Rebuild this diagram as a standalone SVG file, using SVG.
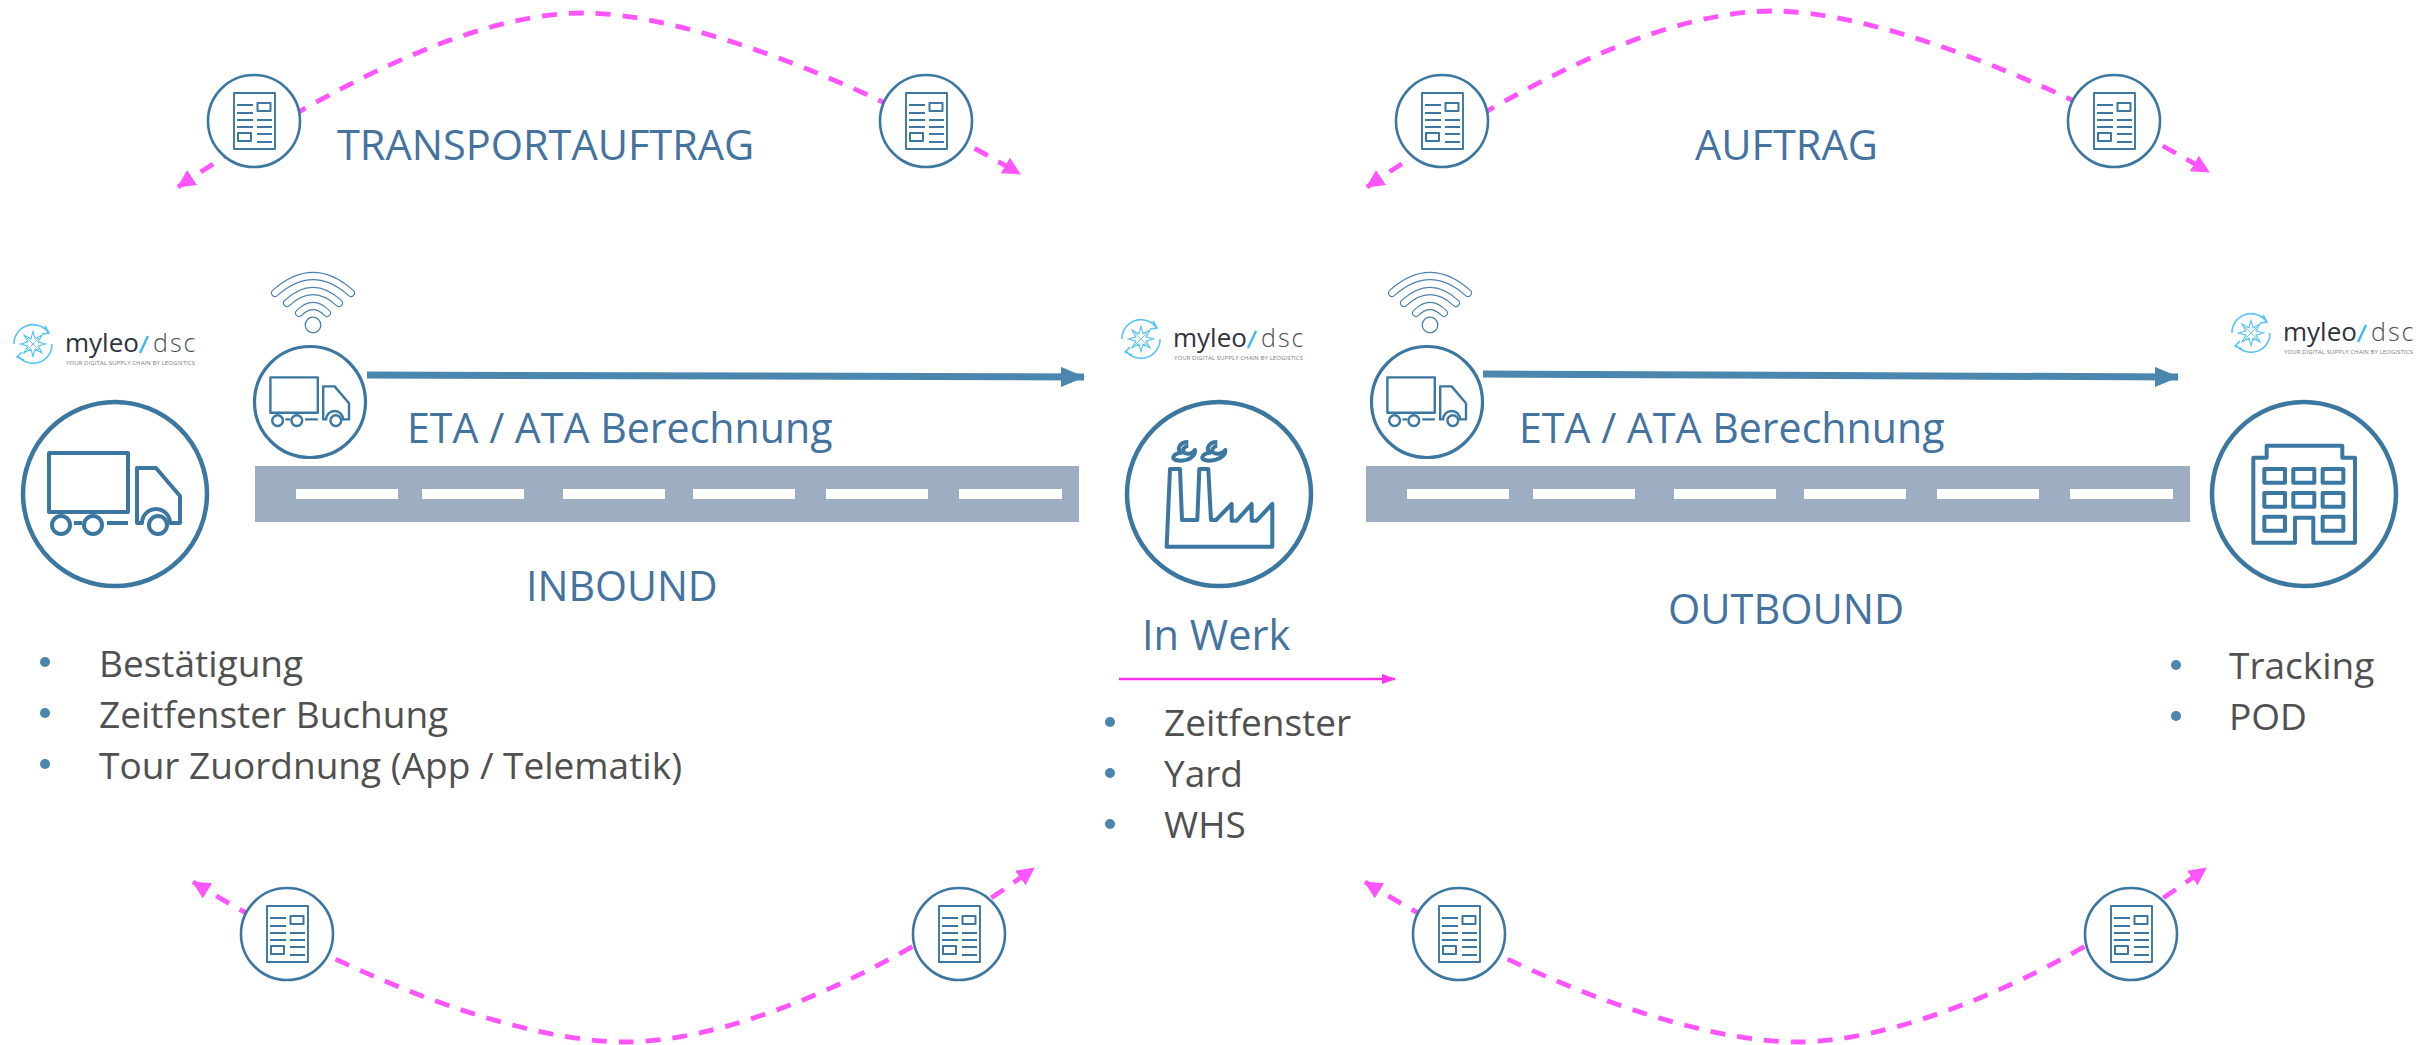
<svg xmlns="http://www.w3.org/2000/svg" width="2430" height="1045" viewBox="0 0 2430 1045">
<style>
text{font-family:"Open Sans","Noto Sans","Liberation Sans",sans-serif}
.ic{fill:none;stroke:#3b77a0;stroke-linejoin:round}
.ring{fill:#fff;stroke:#3b77a0}
.head{font-size:41.500px;fill:#44739f}
.eta{font-size:41.100px}
.body{font-size:37px;fill:#505050}
.bul{fill:#4a86ad}
.road{fill:#9dadc2}
.dash{fill:#fff}
.pink{fill:none;stroke:#ff55ff;stroke-width:4.800;stroke-dasharray:15 12}
.blue{fill:none;stroke:#4a86ad;stroke-width:7}
.my{font-size:26px;fill:#2f3340}
.ds{font-size:25px;font-weight:300;fill:#4c505a;letter-spacing:2px}
.tag{font-size:6px;fill:#777b85}
.wa{fill:none;stroke:#4a80ad;stroke-width:8;stroke-linecap:round}
.wb{fill:none;stroke:#fff;stroke-width:5.800;stroke-linecap:round}
</style>
<defs>
<marker id="mp" markerUnits="userSpaceOnUse" markerWidth="20" markerHeight="20" refX="17" refY="9" orient="auto-start-reverse"><path d="M0 0L18 9L0 18Z" fill="#ff55ff"/></marker>
<marker id="mb" markerUnits="userSpaceOnUse" markerWidth="24" markerHeight="20" refX="23" refY="10" orient="auto"><path d="M0 0L24 10L0 20Z" fill="#4a86ad"/></marker>
<marker id="mm" markerUnits="userSpaceOnUse" markerWidth="14" markerHeight="12" refX="13" refY="6" orient="auto"><path d="M0 1L14 6L0 11Z" fill="#ff33ee"/></marker>
<g id="doc">
<circle r="46" class="ring" stroke-width="2.600"/>
<g class="ic" stroke-width="1.900">
<rect x="-20" y="-28" width="41" height="56"/>
<path d="M-17-16H-1M-17-8H-1M-17-1H-1M-17 6H-1M3-1H18M3 6H18M3 13H18M3 21H18" stroke-width="2"/>
<rect x="3.500" y="-18" width="13" height="8" stroke-width="2"/>
<rect x="-16" y="12" width="13" height="8" stroke-width="2"/>
</g>
</g>
<g id="truck" class="ic" stroke-width="4">
<rect x="-66" y="-41" width="79" height="59"/>
<path d="M22 29V-26H41L65 2V29H55A14 14 0 0 0 27 29Z"/>
<circle cx="43" cy="31" r="9"/><circle cx="-54" cy="31" r="9"/><circle cx="-22" cy="31" r="9"/>
<path d="M-41 29H-33M-8 29H13"/>
</g>
<g id="wifi">
<circle r="7.800" fill="#fff" stroke="#4a80ad" stroke-width="1.300"/>
<path class="wa" d="M-38-32Q0-66 38-32"/><path class="wb" d="M-38-32Q0-66 38-32"/>
<path class="wa" d="M-26-22Q0-46 26-22"/><path class="wb" d="M-26-22Q0-46 26-22"/>
<path class="wa" d="M-14-12Q0-26 14-12"/><path class="wb" d="M-14-12Q0-26 14-12"/>
</g>
<g id="logo">
<g fill="none" stroke="#5cc3f5" stroke-width="1.600">
<path d="M14 344A19 19 0 0 1 48 332M45 326L49 333L42 334"/>
<path d="M52 344A19 19 0 0 1 18 356M22 352L17 357L24 360"/>
<path d="M45.500 344L38.100 346.100L41.800 352.800L35.100 349.100L33 356.500L30.900 349.100L24.200 352.800L27.900 346.100L20.500 344L27.900 341.900L24.200 335.200L30.900 338.900L33 331.500L35.100 338.900L41.800 335.200L38.100 341.900Z" stroke-width="1.200"/>
<path d="M27 338L39 350M39 338L27 350" stroke-width=".9"/>
</g>
<text class="my" x="65" y="352">myleo</text>
<path d="M140 353L148 336" stroke="#3fb8f0" stroke-width="2.400" fill="none"/>
<text class="ds" x="153" y="352">dsc</text>
<text class="tag" x="66" y="365" textLength="129" lengthAdjust="spacing">YOUR DIGITAL SUPPLY CHAIN BY LEOGISTICS</text>
</g>
<g id="dashes">
<rect class="dash" x="296" y="489" width="102" height="10"/><rect class="dash" x="422" y="489" width="102" height="10"/><rect class="dash" x="563" y="489" width="102" height="10"/><rect class="dash" x="693" y="489" width="102" height="10"/><rect class="dash" x="826" y="489" width="102" height="10"/><rect class="dash" x="959" y="489" width="103" height="10"/>
</g>
</defs>
<rect width="2430" height="1045" fill="#fff"/>
<g id="roads">
<rect class="road" x="255" y="466" width="824" height="56"/><use href="#dashes"/>
<rect class="road" x="1366" y="466" width="824" height="56"/><use href="#dashes" x="1111"/>
</g>
<g id="connectors">
<path class="pink" marker-start="url(#mp)" marker-end="url(#mp)" d="M178 187C360 65 490 13 584 13C680 13 850 75 1020 174"/>
<path class="pink" marker-start="url(#mp)" marker-end="url(#mp)" d="M1367 187C1549 63 1679 11 1773 11C1869 11 2039 73 2209 172"/>
<path class="pink" marker-start="url(#mp)" marker-end="url(#mp)" d="M193 882C370 990 530 1042 626 1042C710 1042 860 995 1034 868"/>
<path class="pink" marker-start="url(#mp)" marker-end="url(#mp)" d="M1365 882C1542 990 1702 1042 1798 1042C1882 1042 2032 995 2206 868"/>
<path class="blue" marker-end="url(#mb)" d="M367 375L1084 377"/>
<path class="blue" marker-end="url(#mb)" d="M1483 374L2178 377"/>
<path fill="none" stroke="#ff33ee" stroke-width="2.500" marker-end="url(#mm)" d="M1119 679H1395"/>
</g>
<g id="node-doc-1"><use href="#doc" x="254" y="121"/></g>
<g id="node-doc-2"><use href="#doc" x="926" y="121"/></g>
<g id="node-doc-3"><use href="#doc" x="1442" y="121"/></g>
<g id="node-doc-4"><use href="#doc" x="2114" y="121"/></g>
<g id="node-doc-5"><use href="#doc" x="287" y="934"/></g>
<g id="node-doc-6"><use href="#doc" x="959" y="934"/></g>
<g id="node-doc-7"><use href="#doc" x="1459" y="934"/></g>
<g id="node-doc-8"><use href="#doc" x="2131" y="934"/></g>
<g id="node-truck">
<circle cx="115" cy="494" r="92" class="ring" stroke-width="4.500"/><use href="#truck" x="115" y="494"/>
</g>
<g id="node-truck-in">
<circle cx="310" cy="402" r="55.500" class="ring" stroke-width="3.200"/><use href="#truck" transform="translate(310 402) scale(.6)"/>
<use href="#wifi" x="313" y="325"/>
</g>
<g id="node-truck-out">
<circle cx="1427" cy="402" r="55.500" class="ring" stroke-width="3.200"/><use href="#truck" transform="translate(1427 402) scale(.6)"/>
<use href="#wifi" x="1430" y="325"/>
</g>
<g id="node-factory">
<circle cx="1219" cy="494" r="92" class="ring" stroke-width="4.500"/>
<g class="ic" transform="translate(1080 290) scale(.3333)" stroke-width="12">
<path d="M260 770L270 537H300L306 690H352L358 537H385L393 690H408L455 642V692H470L515 642V692H530L577 642V770Z"/>
<path d="M325 456C297 456 290 478 304 488C278 490 268 512 300 512C325 512 347 500 345 480C340 490 322 495 312 488C305 478 315 468 325 468"/>
<path d="M412 456C384 456 377 478 391 488C365 490 355 512 387 512C412 512 438 500 436 480C430 490 410 495 400 488C392 478 402 468 412 468"/>
</g>
</g>
<g id="node-building">
<circle cx="2304" cy="494" r="92" class="ring" stroke-width="4.500"/>
<g class="ic" transform="translate(2180 290) scale(.3333)" stroke-width="12">
<path d="M345 758H220V503H260V467H487V503H525V758H400V683H345Z"/>
<rect x="253" y="537" width="62" height="41"/><rect x="340" y="537" width="63" height="41"/><rect x="428" y="537" width="62" height="41"/>
<rect x="253" y="609" width="62" height="41"/><rect x="340" y="609" width="63" height="41"/><rect x="428" y="609" width="62" height="41"/>
<rect x="253" y="680" width="62" height="42"/><rect x="428" y="680" width="62" height="42"/>
</g>
</g>
<g id="logo-1"><use href="#logo"/></g>
<g id="logo-2"><use href="#logo" x="1108" y="-5"/></g>
<g id="logo-3"><use href="#logo" x="2218" y="-11"/></g>
<g id="labels">
<text class="head" x="337" y="160">TRANSPORTAUFTRAG</text>
<text class="head" x="1695" y="160">AUFTRAG</text>
<text class="head eta" x="407" y="443">ETA / ATA Berechnung</text>
<text class="head eta" x="1519" y="443">ETA / ATA Berechnung</text>
<text class="head eta" x="526" y="601">INBOUND</text>
<text class="head" x="1668" y="624">OUTBOUND</text>
<text class="head" x="1142" y="650">In Werk</text>
</g>
<g id="list-left">
<circle class="bul" cx="45" cy="662" r="5"/><circle class="bul" cx="45" cy="713" r="5"/><circle class="bul" cx="45" cy="764" r="5"/>
<text class="body" x="99" y="677">Bestätigung</text>
<text class="body" x="99" y="728">Zeitfenster Buchung</text>
<text class="body" x="99" y="779">Tour Zuordnung (App / Telematik)</text>
</g>
<g id="list-mid">
<circle class="bul" cx="1110" cy="722" r="5"/><circle class="bul" cx="1110" cy="773" r="5"/><circle class="bul" cx="1110" cy="824" r="5"/>
<text class="body" x="1164" y="736">Zeitfenster</text>
<text class="body" x="1164" y="787">Yard</text>
<text class="body" x="1164" y="838">WHS</text>
</g>
<g id="list-right">
<circle class="bul" cx="2176" cy="665" r="5"/><circle class="bul" cx="2176" cy="716" r="5"/>
<text class="body" x="2229" y="679">Tracking</text>
<text class="body" x="2229" y="730">POD</text>
</g>
</svg>
